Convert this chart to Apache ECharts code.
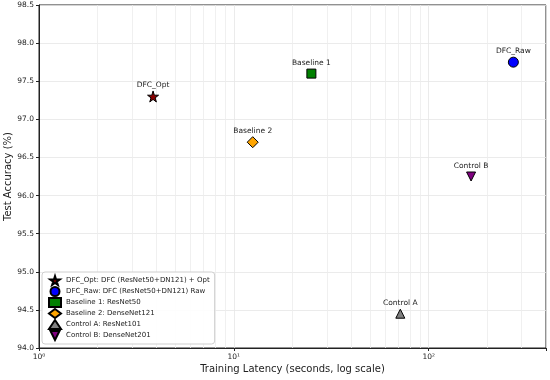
<!DOCTYPE html>
<html><head><meta charset="utf-8">
<script src="https://cdn.jsdelivr.net/npm/echarts@6/dist/echarts.min.js"></script>
<style>html,body{margin:0;padding:0;background:#fff}#c{width:550px;height:380px}</style>
</head><body><div id="c"></div>
<script>
const shortNames = ['DFC_Opt','DFC_Raw','Baseline 1','Baseline 2','Control A','Control B'];
const legendNames = ['DFC_Opt: DFC (ResNet50+DN121) + Opt','DFC_Raw: DFC (ResNet50+DN121) Raw','Baseline 1: ResNet50','Baseline 2: DenseNet121','Control A: ResNet101','Control B: DenseNet201'];
const latency = [3.85, 272, 25, 12.5, 71.5, 165];
const accuracy = [97.3, 97.75, 97.6, 96.7, 94.45, 96.25];
const colors = ['#8b0000','#0000ff','#008000','#ffa500','#808080','#800080'];
const symbols = ['path://M50,0 L61,35 L98,35 L68,57 L79,91 L50,70 L21,91 L32,57 L2,35 L39,35 Z','circle','rect','diamond','triangle','path://M0,0 L10,0 L5,10 Z'];
const sizes = [[11,11],[10,10],[9,9],[11,11],[9,9],[9,9]];
const minorGrid = [2,3,4,5,6,7,8,9,20,30,40,50,60,70,80,90,200,300];
const sup = {1:'10\u2070',10:'10\u00b9',100:'10\u00b2'};

const series = shortNames.map((n,i)=>({
  name: legendNames[i], type:'scatter',
  data:[[latency[i], accuracy[i]]],
  symbol: symbols[i], symbolSize: sizes[i],
  itemStyle:{color:colors[i], borderColor:'#000', borderWidth:1, opacity:1},
  label:{show:true, position:'top', distance:1.5, formatter:n, fontSize:7.5, color:'#222', fontFamily:'DejaVu Sans'},
  z:5
}));
series.push({
  type:'scatter', data:[], silent:true, z:0, zlevel:0,
  markLine:{silent:true, symbol:'none', label:{show:false}, z:0,
    lineStyle:{color:'#ececec', width:0.8, type:'solid'},
    data: minorGrid.map(v=>({xAxis:v}))}
});

const chart = echarts.init(document.getElementById('c'));
chart.setOption({
  animation:false,
  backgroundColor:'#fff',
  grid:{left:39, right:4, top:5, bottom:32, containLabel:false, outerBoundsMode:'none', show:true, borderColor:'#222', borderWidth:1},
  xAxis:{type:'log', logBase:10, min:1, max:400,
    name:'Training Latency (seconds, log scale)', nameLocation:'middle', nameGap:16, nameMoveOverlap:false,
    nameTextStyle:{fontSize:10, color:'#222', fontFamily:'DejaVu Sans'},
    axisLine:{lineStyle:{color:'#222'}},
    axisTick:{show:true, length:3, lineStyle:{color:'#222'}},
    axisLabel:{fontSize:7.5, color:'#222', fontFamily:'DejaVu Sans', margin:5, formatter:v=>sup[Math.round(v)]||''},
    splitLine:{show:true, lineStyle:{color:'#e6e6e6', width:0.8}}
  },
  yAxis:{type:'value', min:94, max:98.5, interval:0.5,
    name:'Test Accuracy (%)', nameLocation:'middle', nameGap:26, nameMoveOverlap:false,
    nameTextStyle:{fontSize:10, color:'#222', fontFamily:'DejaVu Sans'},
    axisLine:{show:true, lineStyle:{color:'#222'}},
    axisTick:{show:true, length:3, lineStyle:{color:'#222'}},
    axisLabel:{fontSize:7.5, color:'#222', fontFamily:'DejaVu Sans', margin:5, formatter:v=>v.toFixed(1)},
    splitLine:{show:true, lineStyle:{color:'#e6e6e6', width:0.8}}
  },
  legend:{show:true, orient:'vertical', left:42, top:272, data:legendNames, z:20,
    itemWidth:12, itemHeight:9, itemGap:0, symbolRotate:'inherit',
    textStyle:{fontSize:7, lineHeight:9, color:'#222', fontFamily:'DejaVu Sans'},
    backgroundColor:'rgba(255,255,255,0.9)', borderColor:'#cfcfcf', borderWidth:1, borderRadius:3,
    padding:[3,5,3,6]
  },
  series: series
});
</script></body></html>
